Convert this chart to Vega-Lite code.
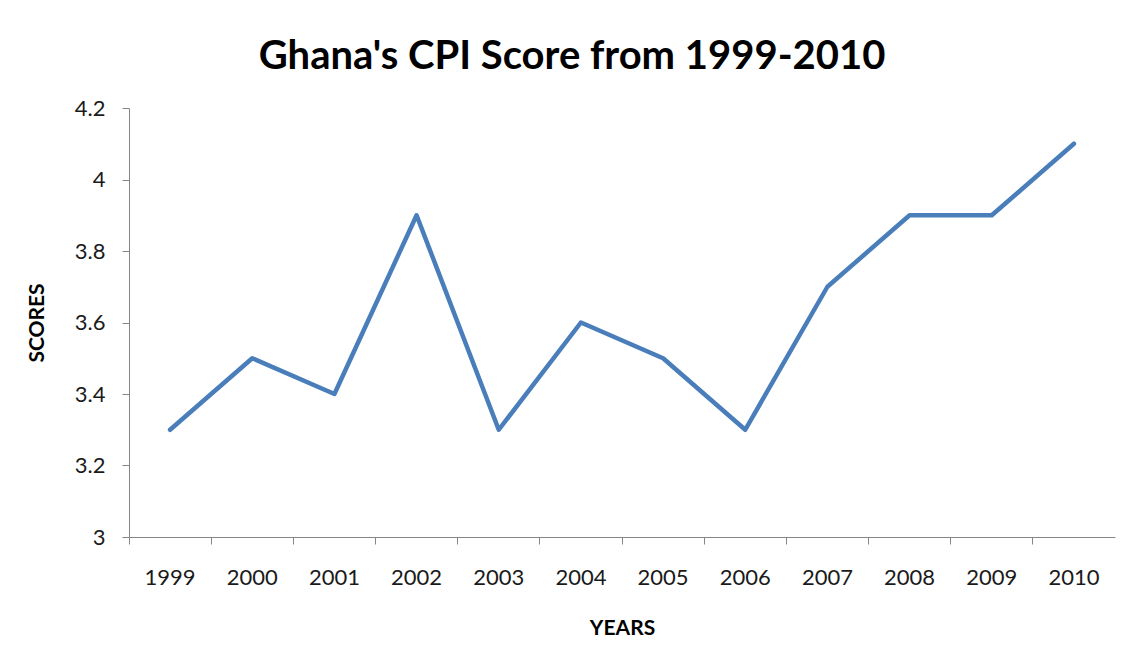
{
  "$schema": "https://vega.github.io/schema/vega-lite/v6.json",
  "width": 986,
  "height": 429,
  "autosize": {"type": "none"},
  "padding": {"left": 129, "top": 108, "right": 18, "bottom": 113},
  "background": "white",
  "title": {
    "text": "Ghana's CPI Score from 1999-2010",
    "font": "Lato",
    "fontSize": 40,
    "fontWeight": "bold",
    "color": "#000000",
    "anchor": "middle",
    "frame": "group",
    "offset": 20,
    "dx": -50
  },
  "data": {
    "values": [
      {"year": "1999", "score": 3.3},
      {"year": "2000", "score": 3.5},
      {"year": "2001", "score": 3.4},
      {"year": "2002", "score": 3.9},
      {"year": "2003", "score": 3.3},
      {"year": "2004", "score": 3.6},
      {"year": "2005", "score": 3.5},
      {"year": "2006", "score": 3.3},
      {"year": "2007", "score": 3.7},
      {"year": "2008", "score": 3.9},
      {"year": "2009", "score": 3.9},
      {"year": "2010", "score": 4.1}
    ]
  },
  "config": {
    "view": {"stroke": null},
    "axis": {
      "domainColor": "#868686",
      "tickColor": "#868686",
      "labelFont": "Lato",
      "titleFont": "Lato",
      "labelColor": "#1a1a1a",
      "titleColor": "#000000",
      "grid": false
    }
  },
  "mark": {"type": "line", "color": "#4a7ebb", "strokeWidth": 4.5, "strokeCap": "round", "strokeJoin": "round"},
  "encoding": {
    "x": {
      "field": "year",
      "type": "ordinal",
      "scale": {"type": "band", "paddingInner": 0, "paddingOuter": 0},
      "axis": {
        "title": "YEARS",
        "titleFontSize": 21,
        "titleFontWeight": "bold",
        "titlePadding": 29,
        "labelAngle": 0,
        "labelFontSize": 22,
        "labelPadding": 23,
        "tickSize": 7,
        "bandPosition": 0
      }
    },
    "y": {
      "field": "score",
      "type": "quantitative",
      "scale": {"domain": [3, 4.2], "nice": false, "zero": false},
      "axis": {
        "title": "SCORES",
        "titleFontSize": 21,
        "titleFontWeight": "bold",
        "titlePadding": 27,
        "values": [3, 3.2, 3.4, 3.6, 3.8, 4, 4.2],
        "format": "~g",
        "labelFontSize": 22,
        "labelPadding": 17,
        "tickSize": 7
      }
    }
  }
}
